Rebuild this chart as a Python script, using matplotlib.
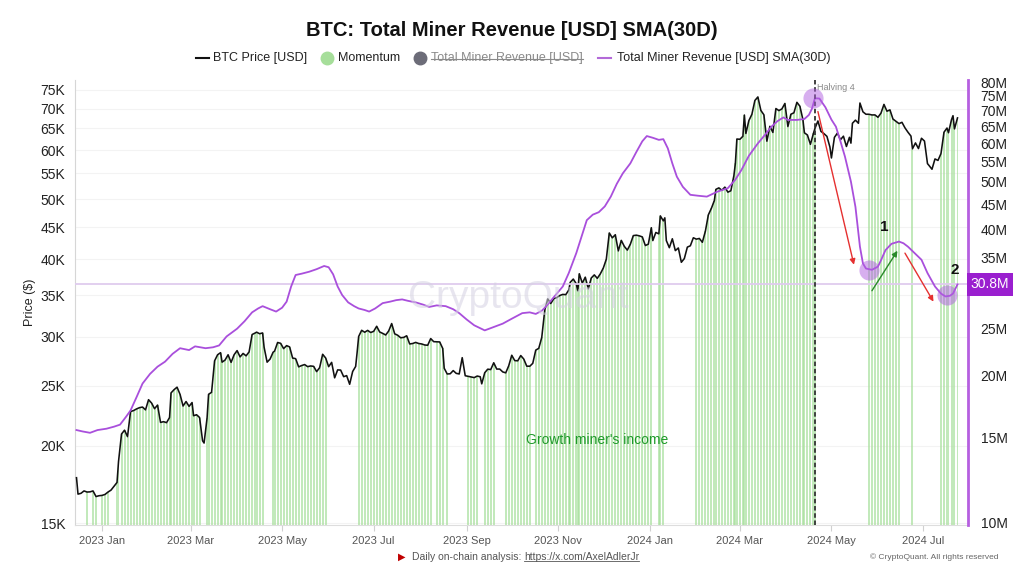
import matplotlib
matplotlib.use("Agg")
import matplotlib.pyplot as plt
from matplotlib.lines import Line2D
from matplotlib.ticker import FixedLocator, FixedFormatter, NullLocator
import numpy as np
import pandas as pd

plt.rcParams['font.family'] = ['Liberation Sans', 'DejaVu Sans']

# ---------------- data ----------------
price_dates = [
    "2022-12-15", "2022-12-16", "2022-12-18", "2022-12-20", "2022-12-22", "2022-12-24", "2022-12-26", "2022-12-28", "2022-12-30",
    "2023-01-01", "2023-01-03", "2023-01-05", "2023-01-07", "2023-01-09", "2023-01-11", "2023-01-12", "2023-01-14", "2023-01-16",
    "2023-01-18", "2023-01-20", "2023-01-22", "2023-01-24", "2023-01-26", "2023-01-28", "2023-01-30", "2023-02-01", "2023-02-03",
    "2023-02-05", "2023-02-07", "2023-02-09", "2023-02-11", "2023-02-13", "2023-02-15", "2023-02-16", "2023-02-18", "2023-02-20",
    "2023-02-22", "2023-02-24", "2023-02-26", "2023-02-28", "2023-03-02", "2023-03-03", "2023-03-05", "2023-03-07", "2023-03-09",
    "2023-03-10", "2023-03-12", "2023-03-13", "2023-03-15", "2023-03-17", "2023-03-19", "2023-03-21", "2023-03-22", "2023-03-24",
    "2023-03-26", "2023-03-28", "2023-03-30", "2023-04-01", "2023-04-03", "2023-04-05", "2023-04-07", "2023-04-09", "2023-04-11",
    "2023-04-13", "2023-04-14", "2023-04-16", "2023-04-18", "2023-04-19", "2023-04-21", "2023-04-23", "2023-04-25", "2023-04-26",
    "2023-04-28", "2023-04-30", "2023-05-02", "2023-05-04", "2023-05-06", "2023-05-08", "2023-05-10", "2023-05-12", "2023-05-14",
    "2023-05-16", "2023-05-18", "2023-05-20", "2023-05-22", "2023-05-24", "2023-05-26", "2023-05-28", "2023-05-30", "2023-06-01",
    "2023-06-03", "2023-06-05", "2023-06-07", "2023-06-09", "2023-06-11", "2023-06-13", "2023-06-15", "2023-06-17", "2023-06-19",
    "2023-06-20", "2023-06-21", "2023-06-23", "2023-06-25", "2023-06-27", "2023-06-29", "2023-07-01", "2023-07-03", "2023-07-05",
    "2023-07-07", "2023-07-09", "2023-07-11", "2023-07-13", "2023-07-15", "2023-07-17", "2023-07-19", "2023-07-21", "2023-07-23",
    "2023-07-25", "2023-07-27", "2023-07-29", "2023-07-31", "2023-08-02", "2023-08-04", "2023-08-06", "2023-08-08", "2023-08-10",
    "2023-08-12", "2023-08-14", "2023-08-16", "2023-08-17", "2023-08-19", "2023-08-21", "2023-08-23", "2023-08-25", "2023-08-27",
    "2023-08-29", "2023-08-31", "2023-09-02", "2023-09-04", "2023-09-06", "2023-09-08", "2023-09-10", "2023-09-11", "2023-09-13",
    "2023-09-15", "2023-09-17", "2023-09-19", "2023-09-21", "2023-09-23", "2023-09-25", "2023-09-27", "2023-09-29", "2023-10-01",
    "2023-10-03", "2023-10-05", "2023-10-07", "2023-10-09", "2023-10-11", "2023-10-13", "2023-10-15", "2023-10-17", "2023-10-19",
    "2023-10-21", "2023-10-23", "2023-10-25", "2023-10-27", "2023-10-29", "2023-10-31", "2023-11-02", "2023-11-04", "2023-11-06",
    "2023-11-08", "2023-11-09", "2023-11-11", "2023-11-13", "2023-11-14", "2023-11-15", "2023-11-17", "2023-11-19", "2023-11-21",
    "2023-11-23", "2023-11-25", "2023-11-27", "2023-11-29", "2023-12-01", "2023-12-03", "2023-12-05", "2023-12-07", "2023-12-09",
    "2023-12-11", "2023-12-13", "2023-12-15", "2023-12-17", "2023-12-19", "2023-12-21", "2023-12-23", "2023-12-25", "2023-12-27",
    "2023-12-29", "2023-12-31", "2024-01-02", "2024-01-03", "2024-01-05", "2024-01-07", "2024-01-08", "2024-01-10", "2024-01-11",
    "2024-01-12", "2024-01-14", "2024-01-16", "2024-01-18", "2024-01-20", "2024-01-22", "2024-01-24", "2024-01-26", "2024-01-28",
    "2024-01-30", "2024-02-01", "2024-02-03", "2024-02-05", "2024-02-07", "2024-02-09", "2024-02-11", "2024-02-13", "2024-02-14",
    "2024-02-16", "2024-02-18", "2024-02-20", "2024-02-22", "2024-02-24", "2024-02-26", "2024-02-27", "2024-02-28", "2024-03-01",
    "2024-03-03", "2024-03-04", "2024-03-05", "2024-03-07", "2024-03-09", "2024-03-11", "2024-03-13", "2024-03-15", "2024-03-17",
    "2024-03-19", "2024-03-21", "2024-03-23", "2024-03-25", "2024-03-27", "2024-03-29", "2024-03-31", "2024-04-02", "2024-04-04",
    "2024-04-06", "2024-04-08", "2024-04-10", "2024-04-12", "2024-04-13", "2024-04-15", "2024-04-17", "2024-04-19", "2024-04-20",
    "2024-04-22", "2024-04-24", "2024-04-26", "2024-04-28", "2024-04-30", "2024-05-01", "2024-05-03", "2024-05-05", "2024-05-07",
    "2024-05-09", "2024-05-11", "2024-05-13", "2024-05-14", "2024-05-15", "2024-05-17", "2024-05-19", "2024-05-20", "2024-05-22",
    "2024-05-24", "2024-05-26", "2024-05-28", "2024-05-30", "2024-06-01", "2024-06-03", "2024-06-05", "2024-06-07", "2024-06-09",
    "2024-06-11", "2024-06-13", "2024-06-15", "2024-06-17", "2024-06-19", "2024-06-21", "2024-06-23", "2024-06-24", "2024-06-26",
    "2024-06-28", "2024-06-30", "2024-07-02", "2024-07-04", "2024-07-05", "2024-07-07", "2024-07-09", "2024-07-11", "2024-07-13",
    "2024-07-15", "2024-07-17", "2024-07-18", "2024-07-20", "2024-07-21", "2024-07-22", "2024-07-24",
]
btc_price = [
    17750, 16700, 16750, 16900, 16830, 16840, 16900, 16550, 16600,
    16620, 16680, 16830, 16950, 17190, 17440, 18850, 20880, 21180,
    20680, 22700, 22780, 22920, 23030, 23080, 22840, 23720, 23430,
    22940, 23250, 21800, 21860, 21780, 22200, 24330, 24620, 24850,
    24190, 23170, 23560, 23140, 23470, 22350, 22430, 22200, 20360,
    20190, 22160, 24200, 24380, 27400, 28030, 28250, 27270, 27490,
    28030, 27250, 28030, 28470, 27810, 28170, 27920, 28330, 30220,
    30390, 30490, 30310, 30400, 28820, 27270, 27590, 28300, 28420,
    29340, 29250, 28680, 29000, 28860, 27690, 27630, 26800, 26930,
    27030, 26820, 26890, 26850, 26330, 26720, 28080, 27700, 26820,
    27250, 25730, 26500, 26480, 25840, 25940, 25120, 26340, 26840,
    28310, 30000, 30700, 30480, 30690, 30450, 30580, 31160, 30510,
    30350, 30170, 30620, 31480, 30300, 30140, 29860, 29900, 30080,
    29180, 29230, 29350, 29230, 29180, 29070, 29040, 29770, 29430,
    29410, 29400, 28700, 26660, 26100, 26120, 26430, 26160, 26100,
    27730, 25930, 25870, 25820, 25750, 25900, 25830, 25160, 26220,
    26570, 26530, 27210, 26580, 26580, 26300, 26210, 26910, 27980,
    27430, 27410, 27950, 27590, 26870, 26860, 27150, 28520, 28710,
    29900, 33090, 34500, 33910, 34530, 34670, 34940, 35080, 35050,
    35660, 36700, 37140, 36490, 35550, 37880, 36580, 37400, 35820,
    37290, 37720, 37240, 37860, 38690, 39970, 44080, 43290, 43790,
    41240, 42880, 41940, 41360, 42260, 43650, 43720, 43610, 43440,
    42070, 42280, 44950, 42850, 44160, 43940, 46970, 46110, 46630,
    42850, 41730, 43140, 41280, 41690, 39530, 40080, 41820, 42030,
    43300, 43080, 43190, 42580, 44350, 47150, 48300, 49730, 51830,
    52120, 51660, 52270, 51300, 51570, 54520, 57090, 62500, 62440,
    63130, 68330, 63800, 66930, 68500, 72120, 73080, 69500, 68390,
    62000, 65520, 64050, 70000, 69470, 69900, 71330, 65470, 68530,
    68900, 71630, 70600, 67180, 63960, 63440, 61280, 63800, 64990,
    66840, 64300, 63770, 63120, 60660, 58250, 62890, 63890, 62330,
    63160, 60790, 62900, 61550, 66270, 67040, 66270, 71450, 69140,
    68530, 68520, 68350, 68360, 67760, 68800, 71080, 69310, 69650,
    67320, 66750, 66190, 66500, 65150, 64100, 63180, 60280, 61600,
    60320, 62680, 62030, 57040, 56660, 55860, 58040, 57720, 59210,
    64100, 65100, 63980, 67150, 68160, 64900, 67600,
]

sma_dates = [
    "2022-12-15", "2022-12-19", "2022-12-24", "2022-12-29", "2023-01-04", "2023-01-09", "2023-01-13", "2023-01-17", "2023-01-20",
    "2023-01-24", "2023-01-28", "2023-02-02", "2023-02-07", "2023-02-12", "2023-02-17", "2023-02-22", "2023-02-28", "2023-03-04",
    "2023-03-11", "2023-03-16", "2023-03-20", "2023-03-25", "2023-04-01", "2023-04-06", "2023-04-11", "2023-04-15", "2023-04-18",
    "2023-04-23", "2023-04-27", "2023-05-01", "2023-05-04", "2023-05-07", "2023-05-10", "2023-05-14", "2023-05-19", "2023-05-24",
    "2023-05-29", "2023-06-01", "2023-06-04", "2023-06-07", "2023-06-10", "2023-06-14", "2023-06-18", "2023-06-21", "2023-06-25",
    "2023-06-28", "2023-07-02", "2023-07-07", "2023-07-12", "2023-07-16", "2023-07-20", "2023-07-24", "2023-07-29", "2023-08-03",
    "2023-08-07", "2023-08-12", "2023-08-18", "2023-08-23", "2023-08-27", "2023-09-01", "2023-09-06", "2023-09-13", "2023-09-19",
    "2023-09-25", "2023-10-01", "2023-10-08", "2023-10-13", "2023-10-17", "2023-10-21", "2023-10-24", "2023-10-29", "2023-11-04",
    "2023-11-08", "2023-11-13", "2023-11-17", "2023-11-20", "2023-11-24", "2023-11-28", "2023-12-02", "2023-12-06", "2023-12-10",
    "2023-12-14", "2023-12-19", "2023-12-23", "2023-12-27", "2023-12-30", "2024-01-03", "2024-01-07", "2024-01-10", "2024-01-13",
    "2024-01-16", "2024-01-19", "2024-01-23", "2024-01-28", "2024-02-02", "2024-02-08", "2024-02-15", "2024-02-22", "2024-02-27",
    "2024-03-02", "2024-03-07", "2024-03-13", "2024-03-18", "2024-03-22", "2024-03-26", "2024-03-30", "2024-04-02", "2024-04-08",
    "2024-04-13", "2024-04-16", "2024-04-18", "2024-04-20", "2024-04-23", "2024-04-27", "2024-05-01", "2024-05-04", "2024-05-07",
    "2024-05-10", "2024-05-14", "2024-05-17", "2024-05-20", "2024-05-22", "2024-05-24", "2024-05-28", "2024-06-01", "2024-06-03",
    "2024-06-06", "2024-06-10", "2024-06-15", "2024-06-18", "2024-06-21", "2024-06-25", "2024-06-30", "2024-07-04", "2024-07-09",
    "2024-07-13", "2024-07-16", "2024-07-19", "2024-07-21", "2024-07-24",
]
sma_revenue_musd = [
    15.5, 15.4, 15.3, 15.5, 15.6, 15.75, 15.9, 16.5, 17.0,
    18.1, 19.3, 20.2, 20.9, 21.4, 22.2, 22.8, 22.6, 23.0,
    22.8, 22.9, 23.1, 24.1, 25.0, 25.9, 27.0, 27.5, 27.8,
    27.4, 27.1, 27.6, 28.4, 30.5, 32.2, 32.4, 32.7, 33.1,
    33.6, 33.4, 32.3, 30.5, 29.3, 28.3, 27.8, 27.5, 27.3,
    27.1, 27.5, 28.2, 28.4, 28.6, 28.7, 28.5, 28.3, 28.0,
    27.7, 27.9, 27.8, 27.4, 26.9, 26.1, 25.4, 24.8, 25.2,
    25.6, 26.2, 26.9, 27.0, 26.8, 27.2, 27.8, 29.0, 30.5,
    32.5, 35.7, 39.0, 41.7, 42.8, 43.3, 44.5, 46.6, 49.5,
    52.0, 54.5, 57.5, 60.5, 62.0, 61.5, 60.9, 61.1, 58.5,
    54.5, 51.2, 48.8, 47.0, 46.8, 46.6, 47.7, 48.5, 50.5,
    52.8, 56.5, 59.9, 62.5, 64.8, 66.5, 67.7, 66.9, 66.9,
    67.2, 68.5, 70.5, 74.1, 74.0, 71.0, 67.0, 64.8, 60.5,
    56.3, 50.0, 44.4, 36.8, 34.0, 33.2, 33.0, 33.5, 34.5,
    36.2, 37.3, 37.7, 37.4, 36.8, 35.8, 34.6, 32.5, 30.5,
    29.5, 29.1, 29.2, 29.5, 30.8,
]

momentum_ranges = [
    ("2022-12-21", "2022-12-22"), ("2022-12-25", "2022-12-29"), ("2023-01-01", "2023-01-06"),
    ("2023-01-10", "2023-03-07"), ("2023-03-12", "2023-04-18"), ("2023-04-25", "2023-05-30"),
    ("2023-06-21", "2023-08-08"), ("2023-08-12", "2023-08-16"), ("2023-08-19", "2023-08-19"),
    ("2023-09-02", "2023-09-08"), ("2023-09-13", "2023-09-19"), ("2023-09-27", "2023-10-13"),
    ("2023-10-17", "2024-01-02"), ("2024-01-07", "2024-01-10"), ("2024-02-01", "2024-04-20"),
    ("2024-05-26", "2024-06-15"), ("2024-06-24", "2024-06-24"), ("2024-07-13", "2024-07-24"),
]

price_ticks = [15000, 20000, 25000, 30000, 35000, 40000, 45000, 50000, 55000, 60000, 65000, 70000, 75000]
price_tick_labels = ["15K", "20K", "25K", "30K", "35K", "40K", "45K", "50K", "55K", "60K", "65K", "70K", "75K"]
revenue_ticks_m = [10, 15, 20, 25, 30, 35, 40, 45, 50, 55, 60, 65, 70, 75, 80]
# the 30M label sits under the last-value box in the reference
revenue_tick_labels = ["10M", "15M", "20M", "25M", "", "35M", "40M", "45M", "50M", "55M", "60M", "65M", "70M", "75M", "80M"]
month_ticks = ["2023-01-01", "2023-03-01", "2023-05-01", "2023-07-01", "2023-09-01", "2023-11-01",
               "2024-01-01", "2024-03-01", "2024-05-01", "2024-07-01"]
month_tick_labels = ["2023 Jan", "2023 Mar", "2023 May", "2023 Jul", "2023 Sep", "2023 Nov",
                     "2024 Jan", "2024 Mar", "2024 May", "2024 Jul"]

halving_date = "2024-04-20"
last_revenue_m = 30.8
circle_dates = ["2024-04-19", "2024-05-26", "2024-07-17"]
circle_values_m = [74.1, 33.0, 29.3]
arrow_starts = [("2024-04-22", 69.6), ("2024-05-28", 29.9), ("2024-06-19", 35.7)]
arrow_ends = [("2024-05-16", 33.8), ("2024-06-14", 36.1), ("2024-07-08", 28.4)]
arrow_colors = ["#e53030", "#2a8a2a", "#e53030"]
number_labels = ["1", "2"]
number_dates = ["2024-06-05", "2024-07-22"]
number_values_m = [40.4, 33.0]
note_text = "Growth miner's income"
note_date = "2023-11-27"
note_price = 20400

# ---------------- figure ----------------
W, H = 1024, 576
fig = plt.figure(figsize=(W / 100, H / 100), dpi=100)
ax = fig.add_axes([75 / W, 51 / H, 893 / W, 445 / H])
ax2 = ax.twinx()

pdates = pd.to_datetime(price_dates)
prices = np.array(btc_price, dtype=float)
sdates = pd.to_datetime(sma_dates)
svals = np.array(sma_revenue_musd) * 1e6

# momentum bars
mask = np.zeros(len(pdates), dtype=bool)
for a, b in momentum_ranges:
    mask |= (pdates >= pd.Timestamp(a)) & (pdates <= pd.Timestamp(b))
bottom = 10000
ax.bar(pdates[mask], prices[mask] - bottom, bottom=bottom, width=1.3,
       color="#a9e09e", alpha=0.7, linewidth=0, zorder=1)

# price line
ax.plot(pdates, prices, color="#111111", lw=1.15, zorder=4)

ax.set_yscale("log")
ax.set_ylim(14889, 77830)
ax.yaxis.set_major_locator(FixedLocator(price_ticks))
ax.yaxis.set_major_formatter(FixedFormatter(price_tick_labels))
ax.yaxis.set_minor_locator(NullLocator())
ax.set_xlim(pd.Timestamp("2022-12-14"), pd.Timestamp("2024-07-31"))
ax.set_xticks(pd.to_datetime(month_ticks))
ax.set_xticklabels(month_tick_labels)
ax.tick_params(axis="x", colors="#d0d0d0", labelcolor="#555555", labelsize=8, length=4, pad=4)
ax.tick_params(axis="y", length=0, labelsize=10, labelcolor="#222222", pad=7)
ax.grid(axis="y", color="#f3f3f3", lw=0.8, zorder=0)
ax.set_axisbelow(True)
ax.set_ylabel("Price ($)", fontsize=9, color="#222222", labelpad=3)
for s in ["top", "right"]:
    ax.spines[s].set_visible(False)
ax.spines["left"].set_color("#d6d6d6")
ax.spines["bottom"].set_color("#dddddd")

# revenue SMA on right axis
ax2.set_yscale("log")
ax2.set_ylim(9.906e6, 80.76e6)
ax2.axhline(last_revenue_m * 1e6, color="#dfcbee", lw=1.3, zorder=2)
ax2.plot(sdates, svals, color="#a94fdc", lw=1.3, zorder=5)
ax2.yaxis.set_major_locator(FixedLocator([v * 1e6 for v in revenue_ticks_m]))
ax2.yaxis.set_major_formatter(FixedFormatter(revenue_tick_labels))
ax2.yaxis.set_minor_locator(NullLocator())
ax2.tick_params(axis="y", length=0, labelsize=10, labelcolor="#222222", pad=9)
for s in ["top", "left", "bottom"]:
    ax2.spines[s].set_visible(False)
ax2.spines["right"].set_color("#b65fe0")
ax2.spines["right"].set_linewidth(2)

# last value label
ax2.text(1.003, last_revenue_m * 1e6, f"{last_revenue_m}M", transform=ax2.get_yaxis_transform(),
         ha="left", va="center", fontsize=10, color="white", zorder=10, clip_on=False,
         bbox=dict(boxstyle="square,pad=0.3", fc="#9a1fcf", ec="none"))

# halving line
hd = pd.Timestamp(halving_date)
ax2.axvline(hd, color="#333333", lw=1.3, ls=(0, (2.5, 1.5)), zorder=6)
ax2.text(hd + pd.Timedelta(days=1.5), 0.993, "Halving 4", transform=ax2.get_xaxis_transform(),
         fontsize=6.5, color="#888888", ha="left", va="top")

# circles
ax2.scatter(pd.to_datetime(circle_dates), np.array(circle_values_m) * 1e6, s=210,
            color="#b060e0", alpha=0.5, linewidths=0, zorder=7)

# arrows
for (d0, v0), (d1, v1), c in zip(arrow_starts, arrow_ends, arrow_colors):
    ax2.annotate("", xy=(pd.Timestamp(d1), v1 * 1e6), xytext=(pd.Timestamp(d0), v0 * 1e6),
                 arrowprops=dict(arrowstyle="-|>", color=c, lw=1.0, mutation_scale=8,
                                 shrinkA=0, shrinkB=0), zorder=8)
for t, d, v in zip(number_labels, number_dates, number_values_m):
    ax2.text(pd.Timestamp(d), v * 1e6, t, fontsize=11, fontweight="bold", color="#111111",
             ha="center", va="center", zorder=9)

ax.text(pd.Timestamp(note_date), note_price, note_text, fontsize=10, color="#1f9a2a",
        ha="center", va="center", zorder=6)

# watermark
fig.text(518 / W, 1 - 298 / H, "CryptoQuant", fontsize=28, color="#d5d1e2", alpha=0.55,
         ha="center", va="center", zorder=0.5)

# title
fig.text(0.5, 1 - 30 / H, "BTC: Total Miner Revenue [USD] SMA(30D)", fontsize=14.5,
         fontweight="bold", ha="center", va="center", color="#111111")

# legend (manual)
ly = 1 - 58 / H
fig.add_artist(Line2D([196 / W, 209 / W], [ly, ly], color="#111111", lw=1.5))
fig.text(213 / W, ly, "BTC Price [USD]", fontsize=9, va="center", color="#222222")
fig.add_artist(Line2D([327 / W], [ly], marker="o", ms=9, color="#a6de9a", lw=0))
fig.text(338 / W, ly, "Momentum", fontsize=9, va="center", color="#222222")
fig.add_artist(Line2D([420 / W], [ly], marker="o", ms=9, color="#6c6c78", lw=0))
strike = fig.text(431 / W, ly, "Total Miner Revenue [USD]", fontsize=9, va="center", color="#8a8a8a")
fig.add_artist(Line2D([598 / W, 611 / W], [ly, ly], color="#b36ad8", lw=1.5))
fig.text(617 / W, ly, "Total Miner Revenue [USD] SMA(30D)", fontsize=9, va="center", color="#222222")

# footer
fy = 1 - 557 / H
fig.text(402 / W, fy, "\u25B6", fontsize=7, color="#c00000", ha="center", va="center",
         family=["DejaVu Sans"])
t1 = fig.text(412 / W, fy, "Daily on-chain analysis: ", fontsize=7.5, va="center", color="#555555")
fig.text(1 - 26 / W, fy, "\u00A9 CryptoQuant. All rights reserved", fontsize=6, va="center",
         ha="right", color="#666666")

fig.canvas.draw()
inv = fig.transFigure.inverted()
bb = strike.get_window_extent().transformed(inv)
ym = (bb.y0 + bb.y1) / 2 - 0.001
fig.add_artist(Line2D([bb.x0, bb.x1], [ym, ym], color="#8a8a8a", lw=0.8))
bb1 = t1.get_window_extent().transformed(inv)
url = fig.text(bb1.x1, fy, "https://x.com/AxelAdlerJr", fontsize=7.5, va="center", color="#555555")
fig.canvas.draw()
bb2 = url.get_window_extent().transformed(inv)
fig.add_artist(Line2D([bb2.x0, bb2.x1], [bb2.y0 + 0.002, bb2.y0 + 0.002], color="#555555", lw=0.6))

fig.savefig("out.png", dpi=100)
